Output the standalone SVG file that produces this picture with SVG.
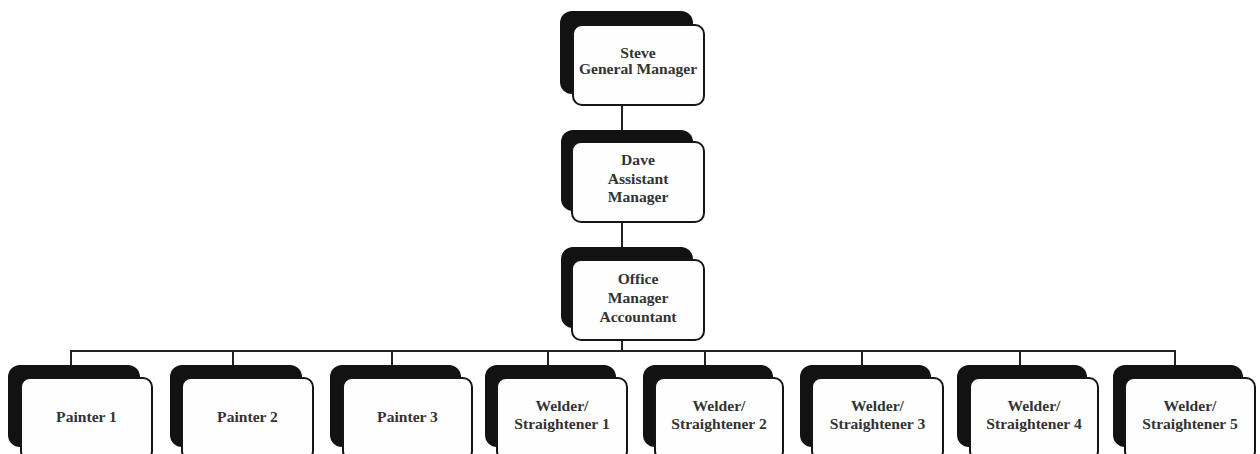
<svg xmlns="http://www.w3.org/2000/svg" width="1260" height="454" viewBox="0 0 1260 454">
<style>
.sh{fill:#121212;}
.fr{fill:#fefefe;stroke:#151515;stroke-width:2;}
.t{font-family:"Liberation Serif","Times New Roman",serif;font-weight:bold;font-size:15.6px;fill:#333;text-anchor:middle;}
.c{stroke:#222;stroke-width:2;fill:none;}
</style>
<rect width="1260" height="454" fill="#fff"/>
<g id="connectors">
<line class="c" x1="622" y1="105" x2="622" y2="131"/>
<line class="c" x1="622" y1="222" x2="622" y2="248"/>
<line class="c" x1="622" y1="340" x2="622" y2="351"/>
<line class="c" x1="70" y1="351" x2="1176" y2="351"/>
<line class="c" x1="71" y1="351" x2="71" y2="366"/>
<line class="c" x1="233" y1="351" x2="233" y2="366"/>
<line class="c" x1="392" y1="351" x2="392" y2="366"/>
<line class="c" x1="548" y1="351" x2="548" y2="366"/>
<line class="c" x1="705" y1="351" x2="705" y2="366"/>
<line class="c" x1="862" y1="351" x2="862" y2="366"/>
<line class="c" x1="1020" y1="351" x2="1020" y2="366"/>
<line class="c" x1="1175" y1="351" x2="1175" y2="366"/>
</g>
<g id="steve">
<rect class="sh" x="560" y="11" width="133" height="83" rx="12"/>
<rect class="fr" x="573" y="25" width="131" height="80" rx="9"/>
<text class="t" x="638" y="58">Steve</text>
<text class="t" x="638" y="74">General Manager</text>
</g>
<g id="dave">
<rect class="sh" x="561" y="130" width="132" height="81" rx="12"/>
<rect class="fr" x="572" y="142" width="132" height="80" rx="9"/>
<text class="t" x="638" y="165">Dave</text>
<text class="t" x="638" y="184">Assistant</text>
<text class="t" x="638" y="202">Manager</text>
</g>
<g id="office">
<rect class="sh" x="561" y="247" width="132" height="81" rx="12"/>
<rect class="fr" x="572" y="260" width="132" height="80" rx="9"/>
<text class="t" x="638" y="284">Office</text>
<text class="t" x="638" y="303">Manager</text>
<text class="t" x="638" y="322">Accountant</text>
</g>
<g id="painter1">
<rect class="sh" x="8" y="365" width="132" height="82" rx="12"/>
<rect class="fr" x="21" y="378" width="131" height="82" rx="9"/>
<text class="t" x="86.5" y="422">Painter 1</text>
</g>
<g id="painter2">
<rect class="sh" x="170" y="365" width="132" height="82" rx="12"/>
<rect class="fr" x="182" y="378" width="131" height="82" rx="9"/>
<text class="t" x="247.5" y="422">Painter 2</text>
</g>
<g id="painter3">
<rect class="sh" x="330" y="365" width="131" height="82" rx="12"/>
<rect class="fr" x="343" y="378" width="129" height="82" rx="9"/>
<text class="t" x="407.5" y="422">Painter 3</text>
</g>
<g id="welder1">
<rect class="sh" x="485" y="365" width="131" height="82" rx="12"/>
<rect class="fr" x="497" y="378" width="130" height="82" rx="9"/>
<text class="t" x="562" y="411">Welder/</text>
<text class="t" x="562" y="429">Straightener 1</text>
</g>
<g id="welder2">
<rect class="sh" x="643" y="365" width="130" height="82" rx="12"/>
<rect class="fr" x="655" y="378" width="128" height="82" rx="9"/>
<text class="t" x="719" y="411">Welder/</text>
<text class="t" x="719" y="429">Straightener 2</text>
</g>
<g id="welder3">
<rect class="sh" x="800" y="365" width="131" height="82" rx="12"/>
<rect class="fr" x="812" y="378" width="131" height="82" rx="9"/>
<text class="t" x="877.5" y="411">Welder/</text>
<text class="t" x="877.5" y="429">Straightener 3</text>
</g>
<g id="welder4">
<rect class="sh" x="957" y="365" width="130" height="82" rx="12"/>
<rect class="fr" x="970" y="378" width="128" height="82" rx="9"/>
<text class="t" x="1034" y="411">Welder/</text>
<text class="t" x="1034" y="429">Straightener 4</text>
</g>
<g id="welder5">
<rect class="sh" x="1113" y="365" width="130" height="82" rx="12"/>
<rect class="fr" x="1125" y="378" width="130" height="82" rx="9"/>
<text class="t" x="1190" y="411">Welder/</text>
<text class="t" x="1190" y="429">Straightener 5</text>
</g>
</svg>
